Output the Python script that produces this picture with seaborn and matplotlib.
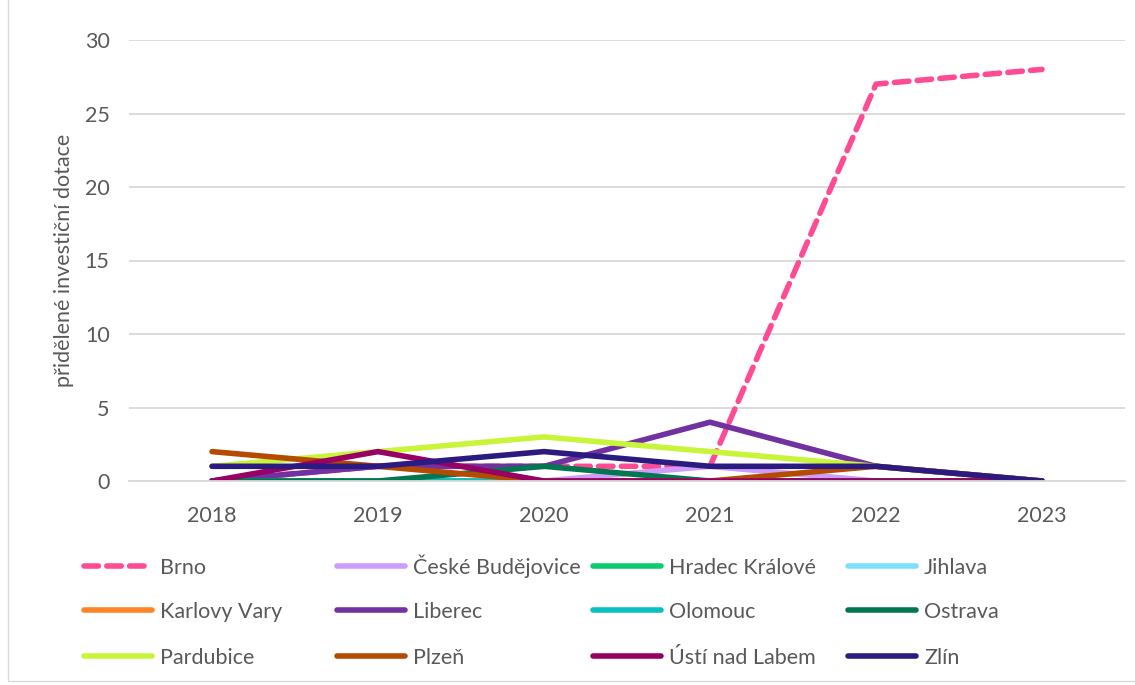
import matplotlib
matplotlib.use("Agg")
import matplotlib.pyplot as plt
from matplotlib.lines import Line2D
from matplotlib.patches import Rectangle
import seaborn as sns
import pandas as pd

years = ["2018", "2019", "2020", "2021", "2022", "2023"]

cities = ["Brno", "České Budějovice", "Hradec Králové", "Jihlava",
          "Karlovy Vary", "Liberec", "Olomouc", "Ostrava",
          "Pardubice", "Plzeň", "Ústí nad Labem", "Zlín"]

brno = [0, 1, 1, 1, 27, 28]
ceske_budejovice = [0, 0, 0, 1, 0, 0]
hradec_kralove = [0, 0, 0, 0, 0, 0]
jihlava = [0, 0, 0, 0, 0, 0]
karlovy_vary = [0, 0, 0, 0, 0, 0]
liberec = [0, 1, 1, 4, 1, 0]
olomouc = [0, 0, 0, 0, 0, 0]
ostrava = [0, 0, 1, 0, 0, 0]
pardubice = [1, 2, 3, 2, 1, 0]
plzen = [2, 1, 0, 0, 1, 0]
usti = [0, 2, 0, 0, 0, 0]
zlin = [1, 1, 2, 1, 1, 0]

series = [brno, ceske_budejovice, hradec_kralove, jihlava, karlovy_vary,
          liberec, olomouc, ostrava, pardubice, plzen, usti, zlin]

colors = ["#FF4A94", "#CC9DFA", "#0ACC6C", "#7EDFFC", "#FF8427", "#7131A1",
          "#0ABFC1", "#00774F", "#C8F53A", "#B54B00", "#980064", "#2B1A7F"]

rows = []
for city, vals in zip(cities, series):
    for y, v in zip(years, vals):
        rows.append({"rok": y, "hodnota": v, "město": city})
df = pd.DataFrame(rows)

sns.set_style("white")
plt.rcParams["font.family"] = ["Lato", "DejaVu Sans"]

text_color = "#595959"
lw = 4.0
fs = 15.5
W, H = 1135, 685

fig = plt.figure(figsize=(W / 100, H / 100), dpi=100)

# thin chart-area border (left and bottom edges fall inside the image)
fig.add_artist(Rectangle((8 / W, 4 / H), 1.2, 1.2, transform=fig.transFigure,
                         facecolor="none", edgecolor="#D9D9D9", linewidth=1.0))

ax = fig.add_axes([129 / W, 1 - 481 / H, (1125 - 129) / W, (481 - 40) / H])

palette = dict(zip(cities, colors))
dash_pattern = (2.6, 1.5)
dashes = {c: "" for c in cities}
dashes["Brno"] = dash_pattern

sns.lineplot(data=df, x="rok", y="hodnota", hue="město", style="město",
             hue_order=cities, style_order=cities, palette=palette,
             dashes=dashes, linewidth=lw, legend=False, ax=ax,
             sort=False, estimator=None)

for line in ax.get_lines():
    line.set_solid_capstyle("round")
    line.set_dash_capstyle("round")
    line.set_solid_joinstyle("miter")

ax.set_xlim(-0.5, 5.5)
ax.set_ylim(0, 30)
ax.set_yticks([0, 5, 10, 15, 20, 25, 30])
ax.grid(axis="y", color="#D9D9D9", linewidth=1.3)
ax.set_axisbelow(True)
for s in ["top", "right", "left"]:
    ax.spines[s].set_visible(False)
ax.spines["bottom"].set_color("#D9D9D9")
ax.spines["bottom"].set_linewidth(1.3)
ax.tick_params(axis="both", length=0, labelsize=fs, labelcolor=text_color)
ax.tick_params(axis="x", pad=18)
ax.tick_params(axis="y", pad=14)
ax.set_xlabel("")
ax.set_ylabel("přidělené investiční dotace", fontsize=fs, color=text_color, labelpad=8)

# legend: four fixed-width columns filled row by row, keys drawn as short lines
col_x = [84, 337, 593, 848]
row_y = [566, 610, 656]
key_len = 68
gap = 8
for i, (c, col) in enumerate(zip(cities, colors)):
    x0 = col_x[i % 4]
    yc = row_y[i // 4]
    ls = (0, dash_pattern) if c == "Brno" else "-"
    key = Line2D([x0 / W, (x0 + key_len) / W], [1 - yc / H, 1 - yc / H],
                 transform=fig.transFigure, color=col, linewidth=lw, linestyle=ls,
                 solid_capstyle="round", dash_capstyle="round")
    fig.add_artist(key)
    fig.text((x0 + key_len + gap) / W, 1 - (yc + 7.5) / H, c, fontsize=fs,
             color=text_color, ha="left", va="baseline")

fig.savefig("out.png", dpi=100)
